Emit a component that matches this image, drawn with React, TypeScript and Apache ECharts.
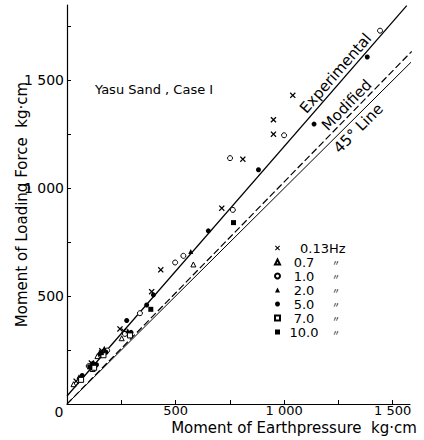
import React, { useEffect, useRef } from "react";
import * as echarts from "echarts";

// ---- data ----
const xTickValues = [0, 250, 500, 750, 1000, 1250, 1500];
const yTickValues = [0, 250, 500, 750, 1000, 1250, 1500, 1750];
const labelValues = [500, 1000, 1500];

const freqNames = ["0.13Hz", "0.7", "1.0", "2.0", "5.0", "7.0", "10.0"];

const hz013 = [[1040, 1431], [951, 1318], [951, 1251], [810, 1135], [713, 908], [432, 622], [390, 521], [244, 348], [262, 338], [160, 247], [112, 190], [42, 106]];
const hz07 = [[582, 647], [252, 305], [140, 222], [118, 162], [30, 92]];
const hz10 = [[1442, 1731], [1000, 1246], [751, 1140], [764, 900], [536, 687], [498, 656], [336, 421], [267, 325], [185, 248], [100, 176], [60, 118]];
const hz20 = [[570, 707], [280, 340], [172, 258], [128, 178], [55, 126]];
const hz50 = [[1383, 1609], [1138, 1298], [882, 1086], [651, 803], [398, 506], [367, 459], [275, 387], [295, 332], [180, 240], [152, 232], [120, 188], [136, 182], [70, 132]];
const hz70 = [[290, 318], [168, 226], [125, 168], [65, 112]];
const hz100 = [[767, 841], [386, 439], [158, 238], [105, 172]];

const experimentalLine = [[0, 37], [1565, 1847]];
const modifiedLine = [[0, 0], [1588, 1635]];
const line45 = [[0, 0], [1620, 1620]];

const seriesData = [hz013, hz07, hz10, hz20, hz50, hz70, hz100];

const CROSS = "path://M0,1.5L1.5,0L5,3.5L8.5,0L10,1.5L6.5,5L10,8.5L8.5,10L5,6.5L1.5,10L0,8.5L3.5,5Z";
const markers = [
  { symbol: CROSS, size: 6, fill: "#000" },
  { symbol: "triangle", size: 5, fill: "#fff" },
  { symbol: "circle", size: 5, fill: "#fff" },
  { symbol: "triangle", size: 5, fill: "#000" },
  { symbol: "circle", size: 5, fill: "#000" },
  { symbol: "rect", size: 5, fill: "#fff" },
  { symbol: "rect", size: 5, fill: "#000" },
];

const FONT = "DejaVu Sans";

const fmt = (v: number) => {
  if (v === 0 || v % 500 !== 0) return "";
  if (v >= 1000) return `${Math.floor(v / 1000)} ${String(v % 1000).padStart(3, "0")}`;
  return String(v);
};

export default function App() {
  const ref = useRef<HTMLDivElement>(null);
  useEffect(() => {
    if (!ref.current) return;
    const chart = echarts.init(ref.current, undefined, { renderer: "svg" });
    const scatter = seriesData.map((d, i) => ({
      type: "scatter",
      name: freqNames[i],
      data: d,
      symbol: markers[i].symbol,
      symbolSize: markers[i].size,
      itemStyle: {
        color: markers[i].fill,
        borderColor: "#000",
        borderWidth: markers[i].fill === "#fff" ? 1 : 0,
        opacity: 1,
      },
      silent: true,
      z: 5,
    }));
    const lineBase = { type: "line", symbol: "none", silent: true, clip: false, z: 3 };
    chart.setOption({
      animation: false,
      backgroundColor: "#fff",
      grid: { left: 67, right: 14, top: 5, bottom: 36, containLabel: false, outerBoundsMode: "none" },
      xAxis: {
        type: "value",
        min: 0,
        max: 1580,
        interval: 250,
        axisLine: { lineStyle: { color: "#000", width: 1.2 } },
        axisTick: { inside: true, length: 4, customValues: xTickValues, lineStyle: { color: "#000" } },
        axisLabel: { customValues: labelValues, formatter: fmt, margin: 0, color: "#000", fontSize: 13, lineHeight: 13, fontFamily: FONT },
        splitLine: { show: false },
        name: "Moment of Earthpressure  kg·cm",
        nameLocation: "middle",
        nameGap: 16,
        nameMoveOverlap: false,
        nameTextStyle: { color: "#000", fontSize: 15, lineHeight: 15, fontFamily: FONT, padding: [0, 0, 0, 111], verticalAlign: "top" },
      },
      yAxis: {
        type: "value",
        min: 0,
        max: 1850,
        interval: 250,
        axisLine: { lineStyle: { color: "#000", width: 1.2 } },
        axisTick: { inside: true, length: 4, customValues: yTickValues, lineStyle: { color: "#000" } },
        axisLabel: { customValues: labelValues, formatter: fmt, margin: 3, color: "#000", fontSize: 14, fontFamily: FONT },
        splitLine: { show: false },
        name: "Moment of Loading Force  kg·cm",
        nameLocation: "middle",
        nameGap: 38,
        nameMoveOverlap: false,
        nameTextStyle: { color: "#000", fontSize: 15, fontFamily: FONT },
      },
      legend: {
        data: freqNames,
        orient: "vertical",
        left: 269,
        top: 236,
        itemWidth: 5,
        itemHeight: 5,
        itemGap: 0,
        selectedMode: false,
        formatter: (name: string) => (name === "0.13Hz" ? "{h|0.13Hz}" : `{n|${name}}{d|〃}`),
        textStyle: {
          color: "#000",
          fontSize: 13,
          fontFamily: FONT,
          lineHeight: 14,
          rich: {
            h: { color: "#000", fontSize: 13, fontFamily: FONT, lineHeight: 14, padding: [0, 0, 0, 15] },
            n: { color: "#000", fontSize: 13, fontFamily: FONT, lineHeight: 14, width: 38, align: "right" },
            d: { color: "#000", fontSize: 8, fontFamily: "Noto Sans CJK JP", lineHeight: 14, padding: [0, 0, 0, 9] },
          },
        },
      },
      graphic: [
        { type: "text", left: 95, top: 83, style: { text: "Yasu Sand , Case I", fontSize: 13, fontFamily: FONT, fill: "#000" } },
        { type: "text", x: 59, y: 412, style: { text: "0", fontSize: 14, fontFamily: FONT, fill: "#000", align: "center", verticalAlign: "middle" } },
        { type: "text", x: 335.7, y: 73.3, rotation: 0.853, style: { text: "Experimental", fontSize: 15, fontFamily: FONT, fill: "#000", align: "center", verticalAlign: "middle" } },
        { type: "text", x: 346.7, y: 105, rotation: 0.8, style: { text: "Modified", fontSize: 15, fontFamily: FONT, fill: "#000", align: "center", verticalAlign: "middle" } },
        { type: "text", x: 358.3, y: 128.3, rotation: 0.785, style: { text: "45° Line", fontSize: 15, fontFamily: FONT, fill: "#000", align: "center", verticalAlign: "middle" } },
      ],
      series: [
        ...scatter,
        { ...lineBase, name: "Experimental", data: experimentalLine, lineStyle: { color: "#000", width: 1.3 } },
        { ...lineBase, name: "Modified", data: modifiedLine, lineStyle: { color: "#000", width: 1.2, type: [7, 3] } },
        { ...lineBase, name: "45 Line", data: line45, lineStyle: { color: "#000", width: 1 } },
      ],
    });
    return () => chart.dispose();
  }, []);
  return <div ref={ref} style={{ position: "absolute", left: 0, top: 0, width: 424, height: 440 }} />;
}
